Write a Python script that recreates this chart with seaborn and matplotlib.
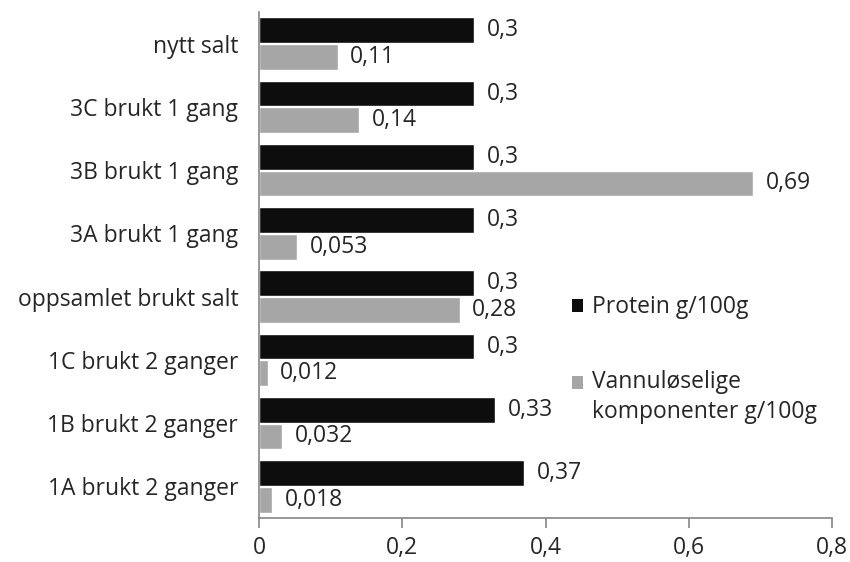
import matplotlib
matplotlib.use("Agg")
import matplotlib.pyplot as plt
import seaborn as sns
import pandas as pd
from matplotlib.patches import Patch, Rectangle
from matplotlib.legend_handler import HandlerPatch

categories = ["nytt salt", "3C brukt 1 gang", "3B brukt 1 gang", "3A brukt 1 gang",
              "oppsamlet brukt salt", "1C brukt 2 ganger", "1B brukt 2 ganger", "1A brukt 2 ganger"]
protein = [0.3, 0.3, 0.3, 0.3, 0.3, 0.3, 0.33, 0.37]
vannl = [0.11, 0.14, 0.69, 0.053, 0.28, 0.012, 0.032, 0.018]
protein_labels = ["0,3", "0,3", "0,3", "0,3", "0,3", "0,3", "0,33", "0,37"]
vannl_labels = ["0,11", "0,14", "0,69", "0,053", "0,28", "0,012", "0,032", "0,018"]
series = ["Protein g/100g", "Vannuløselige\nkomponenter g/100g"]
xticks = [0, 0.2, 0.4, 0.6, 0.8]
xtick_labels = ["0", "0,2", "0,4", "0,6", "0,8"]

sns.set_style("white")
plt.rcParams['font.family'] = ['Open Sans', 'DejaVu Sans']

df = pd.DataFrame({
    "cat": categories * 2,
    "val": protein + vannl,
    "serie": [series[0]] * len(categories) + [series[1]] * len(categories),
})

colors = ["#0d0d0d", "#a6a6a6"]
fig = plt.figure(figsize=(8.5, 5.62), dpi=100)
ax = fig.add_axes([259/850, 1-518/562, (832-259)/850, (518-12)/562])
sns.barplot(data=df, y="cat", x="val", hue="serie", orient="h", palette=colors,
            width=0.84, gap=0.03, ax=ax, legend=False, saturation=1)

fs = 16.5
for cont, labs in zip(ax.containers, [protein_labels, vannl_labels]):
    ax.bar_label(cont, labels=labs, padding=9, fontsize=fs)

ax.set_xlim(0, 0.8)
ax.set_xticks(xticks)
ax.set_xticklabels(xtick_labels, fontsize=fs)
ax.set_ylim(len(categories) - 0.5, -0.5)
ax.tick_params(axis="y", length=0, pad=15, labelsize=fs)
ax.tick_params(axis="x", length=7, width=1.2, color="#868686", pad=6, bottom=True)
ax.set_xlabel("")
ax.set_ylabel("")
for s in ["top", "right"]:
    ax.spines[s].set_visible(False)
for s in ["left", "bottom"]:
    ax.spines[s].set_color("#868686")
    ax.spines[s].set_linewidth(1.2)


def top_patch(legend, orig_handle, xdescent, ydescent, width, height, fontsize):
    lines = orig_handle.get_label().count("\n")
    shift = 0.68 * fontsize * lines
    return Rectangle((-xdescent, -ydescent + shift), width, height)


handles = []
for c, s in zip(colors, series):
    p = Patch(facecolor=c, edgecolor="none", label=s)
    handles.append(p)
leg = ax.legend(handles, series, loc="upper left", bbox_to_anchor=(0.546, 0.44),
                frameon=False, fontsize=fs, handlelength=0.5, handleheight=0.5,
                handletextpad=0.38, labelspacing=2.2, borderpad=0, borderaxespad=0,
                handler_map={Patch: HandlerPatch(patch_func=top_patch)})
for t in leg.get_texts():
    t.set_linespacing(1.35)

fig.savefig("out.png", dpi=100)
